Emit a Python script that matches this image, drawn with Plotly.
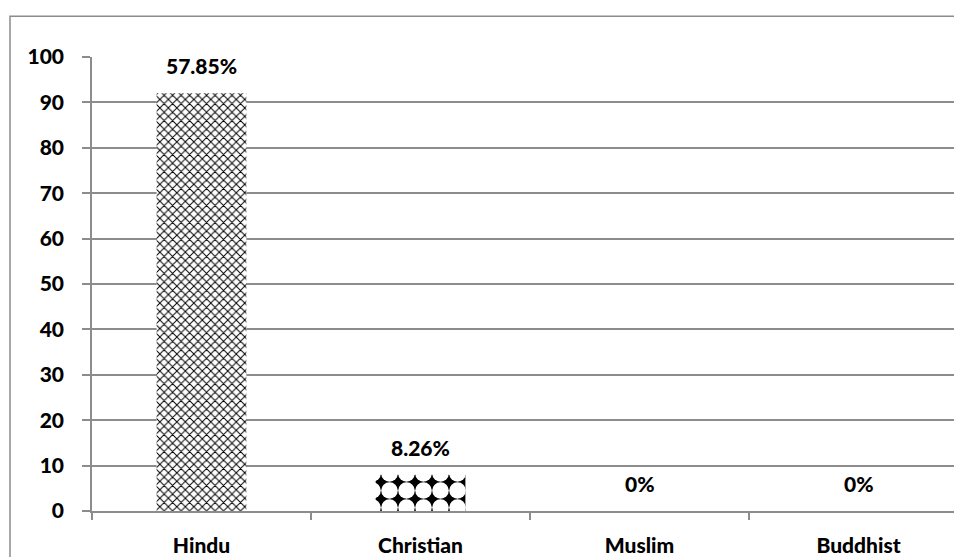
import plotly.graph_objects as go

# Religion distribution
categories = ["Hindu", "Christian", "Muslim", "Buddhist"]
counts = [92, 8, 0, 0]
pct_labels = ["57.85%", "8.26%", "0%", "0%"]
y_ticks = [0, 10, 20, 30, 40, 50, 60, 70, 80, 90, 100]

FONT = "Lato"
FS = 21
WT = 900
GRID = "#8c8c8c"

patterns = [
    dict(shape="x", fgcolor="black", bgcolor="white", size=6, solidity=0.3, fillmode="replace"),
    dict(shape=".", fgcolor="white", bgcolor="black", size=17, solidity=0.75, fillmode="replace"),
    dict(shape="", bgcolor="white"),
    dict(shape="", bgcolor="white"),
]

fig = go.Figure()
for cat, val, pat in zip(categories, counts, patterns):
    fig.add_trace(go.Bar(
        x=[cat], y=[val], width=0.41,
        marker=dict(color="white", line=dict(width=0), pattern=pat),
        showlegend=False, hoverinfo="skip",
    ))

for cat, val, lab in zip(categories, counts, pct_labels):
    fig.add_annotation(
        x=cat, y=val, text=lab, showarrow=False,
        yanchor="bottom", yshift=13,
        font=dict(family=FONT, size=FS, color="black", weight=WT),
    )

# Outer chart border
W, H = 954, 557
ml, mt, mb = 92, 57, 44
pw, ph = W - ml, H - mt - mb
fig.add_shape(
    type="rect", xref="paper", yref="paper",
    x0=(10 - ml) / pw, x1=(W + 20 - ml) / pw,
    y0=-(H + 20 - (H - mb)) / ph, y1=1 + (mt - 16) / ph,
    line=dict(color=GRID, width=1.5), fillcolor="rgba(0,0,0,0)", layer="below",
)

cat_px = 219
fig.update_layout(
    width=W, height=H,
    margin=dict(l=ml, r=0, t=mt, b=mb),
    paper_bgcolor="white", plot_bgcolor="white",
    barmode="overlay",
    font=dict(family=FONT, size=FS, color="black"),
    xaxis=dict(
        type="category", categoryorder="array", categoryarray=categories,
        range=[-0.5, -0.5 + pw / cat_px],
        tickson="boundaries", ticks="outside", ticklen=7, tickcolor=GRID,
        tickwidth=1.5, showline=True, linecolor=GRID, linewidth=1.5,
        showgrid=False, ticklabelstandoff=15,
        tickfont=dict(family=FONT, size=FS, color="black", weight=WT),
    ),
    yaxis=dict(
        range=[0, 100], tickvals=y_ticks,
        ticks="outside", ticklen=8, tickcolor=GRID, tickwidth=1.5,
        showline=True, linecolor=GRID, linewidth=1.5,
        showgrid=True, gridcolor=GRID, gridwidth=1.5,
        zeroline=False, ticklabelstandoff=14,
        tickfont=dict(family=FONT, size=FS, color="black", weight=WT),
    ),
)

fig.write_html("out.html")
